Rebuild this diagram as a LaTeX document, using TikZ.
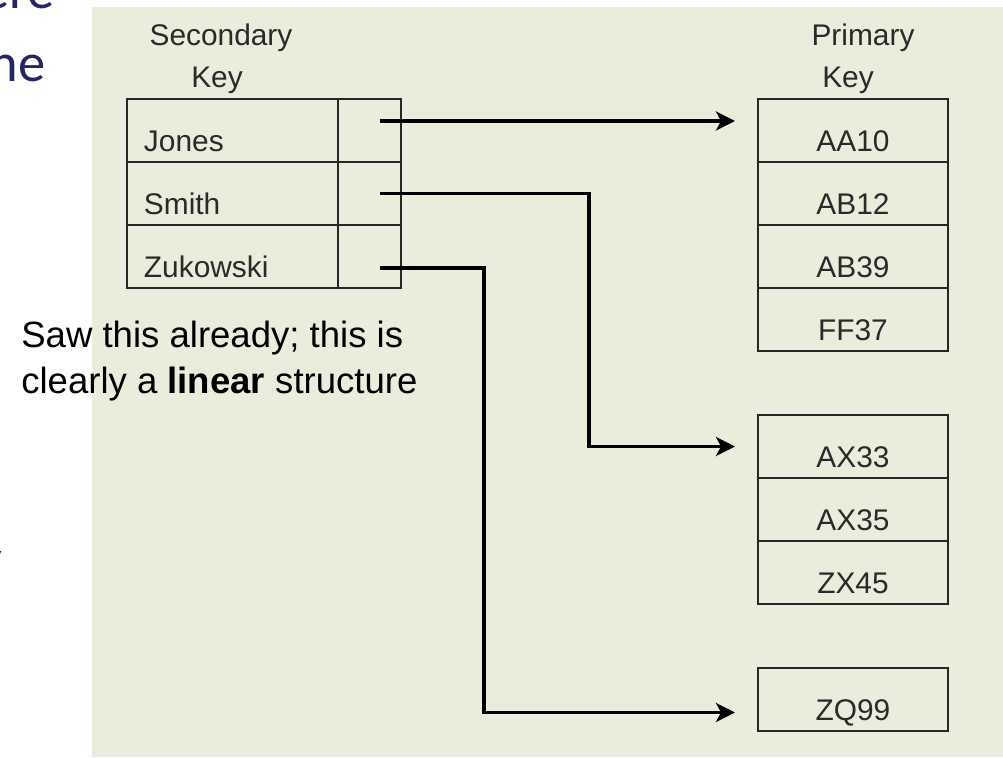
\documentclass[tikz,border=0pt]{standalone}
\usepackage{fontspec}
\setmainfont{Liberation Sans}
\newfontfamily\slidefont{Carlito}
\usetikzlibrary{arrows.meta,positioning}

\definecolor{panelbg}{RGB}{236,236,221}
\definecolor{inkgray}{RGB}{42,42,42}
\definecolor{slideblue}{RGB}{38,36,102}

\tikzset{
  cell/.style={draw=black!85,line width=1.1pt,minimum height=1.26cm,inner sep=0pt,outer sep=0pt,
               text height=0.84cm,text depth=0pt,text=inkgray,font=\fontsize{17}{20}\selectfont},
  namecell/.style={cell,text width=3.54cm,inner xsep=0.34cm,align=left},
  ptrcell/.style={cell,minimum width=1.26cm},
  keycell/.style={cell,minimum width=3.8cm},
  head/.style={inner sep=0pt,text=inkgray,font=\fontsize{17}{20}\selectfont},
  note/.style={inner sep=0pt,text=black,font=\fontsize{20.8}{26}\selectfont},
  slide/.style={inner sep=0pt,text=slideblue,font=\slidefont\fontsize{31}{37}\selectfont},
  link/.style={line width=1.9pt,black,-{Stealth[length=0.38cm,width=0.38cm,inset=0.1cm]}},
}

\begin{document}
\begin{tikzpicture}[x=0.02cm,y=-0.02cm]
\useasboundingbox (0,0) rectangle (1003,757);
\fill[white] (0,0) rectangle (1003,757);
\fill[panelbg] (92,7) rectangle (1003,757);

% bits of the slide text behind the figure
\node[slide,anchor=base east] (frag1) at (55,9) {ere};
\node[slide,anchor=base east] (frag2) at (46,82) {ne};
\node[slide,anchor=base east] (frag3) at (3,577) {y};

% secondary key index
\node[head,anchor=base] (sechead) at (221,46) {Secondary};
\node[head,anchor=base] (seckey) at (217,88) {Key};
\foreach \name [count=\n] in {Jones,Smith,Zukowski} {
  \node[namecell,anchor=north west] (sec\n) at (127,{99+63*(\n-1)}) {\name};
  \node[ptrcell,anchor=north west] (ptr\n) at (sec\n.north east) {};
}

% primary key lists
\node[head,anchor=base] (prihead) at (863,46) {Primary};
\node[head,anchor=base] (prikey) at (848,88) {Key};
\foreach \key [count=\n] in {AA10,AB12,AB39,FF37}
  \node[keycell,anchor=north west] (pri\n) at (758,{99+63*(\n-1)}) {\key};
\foreach \key [count=\n] in {AX33,AX35,ZX45}
  \node[keycell,anchor=north west] (ovf\n) at (758,{415+63*(\n-1)}) {\key};
\node[keycell,anchor=north west] (zq) at (758,668) {ZQ99};

% pointers
\coordinate (s1) at ([shift={(0.21cm,0.19cm)}]ptr1.center);
\coordinate (s2) at ([xshift=0.21cm]ptr2.center);
\coordinate (s3) at ([shift={(0.21cm,-0.23cm)}]ptr3.center);
\coordinate (t1) at ([xshift=-0.46cm]pri1.west);
\coordinate (t2) at ([xshift=-0.46cm]ovf1.west);
\coordinate (t3) at ([shift={(-0.46cm,-0.26cm)}]zq.west);
\draw[link] (s1) -- (s1 -| t1);
\draw[link] (s2) -- ++(4.18cm,0) |- (t2);
\draw[link] (s3) -- ++(2.08cm,0) |- (t3);

% remark
\node[note,anchor=base west] (note1) at (21,347) {Saw this already; this is};
\node[note,anchor=base west] (note2) at (21,393) {clearly a \textbf{linear} structure};
\end{tikzpicture}
\end{document}
